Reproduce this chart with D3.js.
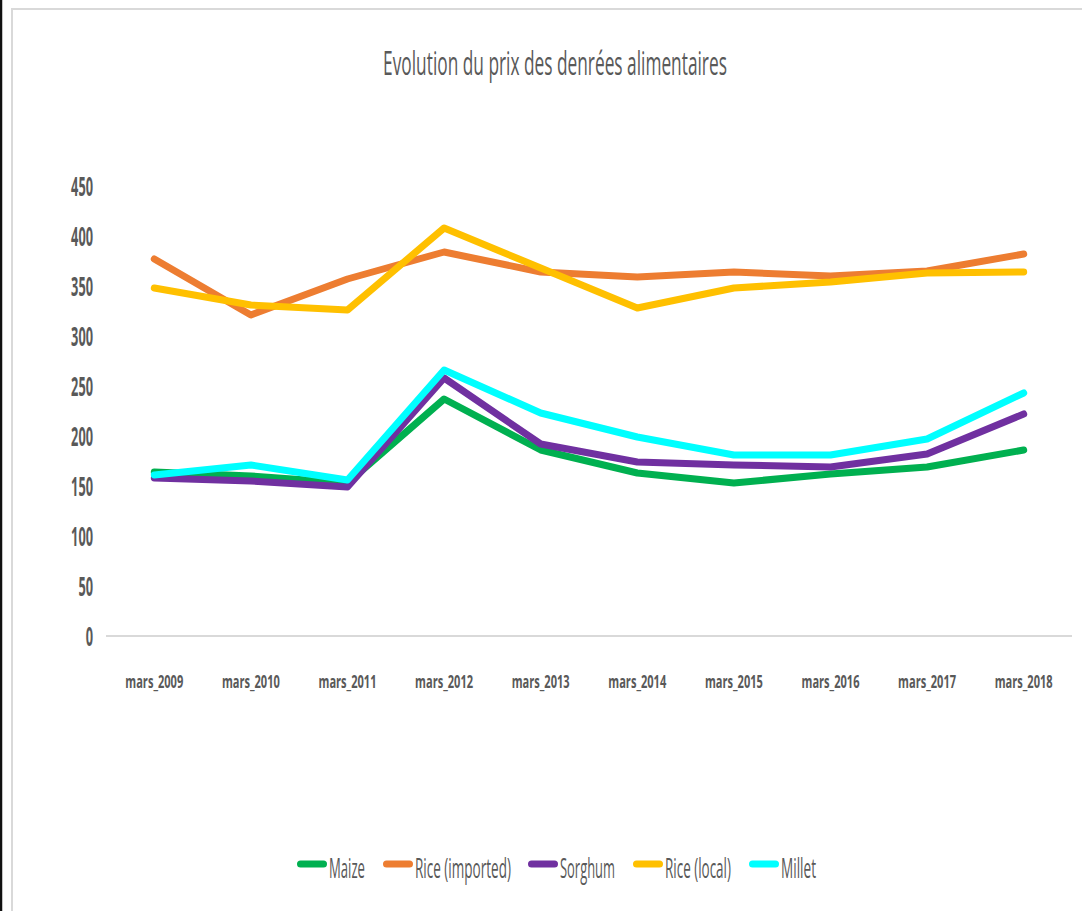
<!DOCTYPE html>
<html>
<head>
<meta charset="utf-8">
<script src="https://cdn.jsdelivr.net/npm/d3@7"></script>
<style>
  body { margin: 0; background: #fff; }
  text { font-family: "Open Sans", "Noto Sans", sans-serif; fill: #595959; }
</style>
</head>
<body>
<script>
let w = 1082;
let h = 911;

const years = ["mars_2009", "mars_2010", "mars_2011", "mars_2012", "mars_2013",
  "mars_2014", "mars_2015", "mars_2016", "mars_2017", "mars_2018"];
const yTicks = [0, 50, 100, 150, 200, 250, 300, 350, 400, 450];

const maize = [164, 160, 153, 237, 186, 163, 153, 162, 169, 186];
const riceImported = [377, 321, 357, 384, 364, 359, 364, 360, 365, 382];
const sorghum = [158, 155, 149, 258, 192, 174, 171, 169, 182, 222];
const riceLocal = [348, 331, 326, 408, 368, 328, 348, 354, 363, 364];
const millet = [161, 171, 156, 266, 223, 199, 181, 181, 197, 243];

const seriesNames = ["Maize", "Rice (imported)", "Sorghum", "Rice (local)", "Millet"];
const seriesValues = [maize, riceImported, sorghum, riceLocal, millet];
const colors = ["#00b050", "#ed7d31", "#7030a0", "#ffc000", "#00ffff"];

//create our svg
let svg = d3.select("body").append("svg").attr("width", w).attr("height", h);

//squeeze a text horizontally to the wanted width (the chart font is condensed)
function squeeze(sel, widthFn) {
  sel.each(function (d, i) {
    let t = d3.select(this);
    let natural = this.getComputedTextLength();
    let s = widthFn(d, i) / natural;
    let tx = +t.attr("x");
    let ty = +t.attr("y");
    t.attr("transform", "translate(" + tx + "," + ty + ") scale(" + s + ",1) translate(" + -tx + "," + -ty + ")");
  });
}

//frame of the sheet and chart area
svg.append("line")
  .attr("x1", 1).attr("x2", 1).attr("y1", 0).attr("y2", h)
  .attr("stroke", "#111").attr("stroke-width", 2.5);
svg.append("rect")
  .attr("x", 12).attr("y", 9).attr("width", w).attr("height", h)
  .attr("fill", "#fff").attr("stroke", "#d9d9d9").attr("stroke-width", 2);

//title
svg.append("text")
  .attr("x", 555).attr("y", 75)
  .attr("text-anchor", "middle")
  .attr("font-size", 33)
  .text("Evolution du prix des denrées alimentaires")
  .call(squeeze, function () { return 344; });

//scales
let x = d3.scaleBand().domain(years).range([106, 1072]);
let y = d3.scaleLinear().domain([0, 450]).range([636, 186]);

//baseline
svg.append("line")
  .attr("x1", 106).attr("x2", 1072)
  .attr("y1", y(0)).attr("y2", y(0))
  .attr("stroke", "#d9d9d9").attr("stroke-width", 2);

//y axis labels
svg.selectAll(".ylab")
  .data(yTicks)
  .enter()
  .append("text")
  .attr("class", "ylab")
  .attr("x", 93)
  .attr("y", function (d) { return y(d) + 10; })
  .attr("text-anchor", "end")
  .attr("font-size", 27)
  .attr("font-weight", "bold")
  .text(function (d) { return d; })
  .call(squeeze, function (d) { return String(d).length * 7.3; });

//x axis labels
svg.selectAll(".xlab")
  .data(years)
  .enter()
  .append("text")
  .attr("class", "xlab")
  .attr("x", function (d) { return x(d) + x.bandwidth() / 2; })
  .attr("y", 688)
  .attr("text-anchor", "middle")
  .attr("font-size", 18.5)
  .attr("font-weight", "bold")
  .text(function (d) { return d; })
  .call(squeeze, function () { return 58; });

//lines
let line = d3.line()
  .x(function (d, i) { return x(years[i]) + x.bandwidth() / 2; })
  .y(function (d) { return y(d); });

svg.selectAll(".series")
  .data(seriesValues)
  .enter()
  .append("path")
  .attr("class", "series")
  .attr("d", line)
  .attr("fill", "none")
  .attr("stroke", function (d, i) { return colors[i]; })
  .attr("stroke-width", 7)
  .attr("stroke-linejoin", "round")
  .attr("stroke-linecap", "round");

//legend
const legendX = [297, 383, 528, 633, 749];
const legendW = [36, 96, 55, 66, 35];
let legend = svg.selectAll(".legend")
  .data(seriesNames)
  .enter()
  .append("g")
  .attr("class", "legend")
  .attr("transform", function (d, i) { return "translate(" + legendX[i] + ",864)"; });

legend.append("line")
  .attr("x1", 3.5).attr("x2", 26.5)
  .attr("y1", 0).attr("y2", 0)
  .attr("stroke", function (d, i) { return colors[i]; })
  .attr("stroke-width", 7)
  .attr("stroke-linecap", "round");

legend.append("text")
  .attr("x", 32)
  .attr("y", 14)
  .attr("font-size", 28)
  .text(function (d) { return d; })
  .call(squeeze, function (d, i) { return legendW[i]; });
</script>
</body>
</html>
